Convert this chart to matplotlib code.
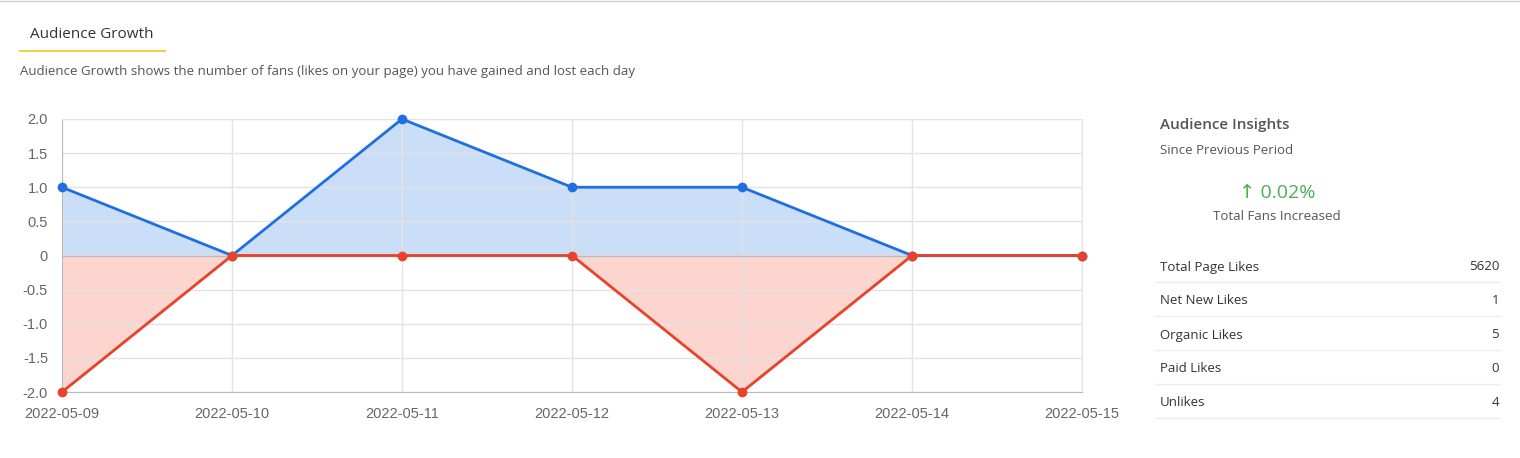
import matplotlib.pyplot as plt

dates = ["2022-05-09", "2022-05-10", "2022-05-11", "2022-05-12",
         "2022-05-13", "2022-05-14", "2022-05-15"]
gained = [1, 0, 2, 1, 1, 0, 0]
lost = [-2, 0, 0, 0, -2, 0, 0]
y_ticks = [2.0, 1.5, 1.0, 0.5, 0, -0.5, -1.0, -1.5, -2.0]
y_labels = ["2.0", "1.5", "1.0", "0.5", "0", "-0.5", "-1.0", "-1.5", "-2.0"]
stat_labels = ["Total Page Likes", "Net New Likes", "Organic Likes", "Paid Likes", "Unlikes"]
stat_values = [5620, 1, 5, 0, 4]

W, H = 1520, 458
fig = plt.figure(figsize=(W / 100, H / 100), dpi=100)

def fx(px):
    return px / W

def fy(py):
    return 1 - py / H

# header
fig.add_artist(plt.Line2D([0, 1], [fy(1), fy(1)], color="#d0d0d0", lw=1))
fig.text(fx(30), fy(35), "Audience Growth", fontsize=11, color="#333333", va="center", family="Open Sans")
fig.add_artist(plt.Line2D([fx(20), fx(165)], [fy(51), fy(51)], color="#f2d14a", lw=1.5))
fig.text(fx(20), fy(72), "Audience Growth shows the number of fans (likes on your page) you have gained and lost each day",
         fontsize=9.5, color="#555555", va="center", family="Open Sans")

# chart
ax = fig.add_axes([fx(62), fy(392), fx(1082) - fx(62), fy(119) - fy(392)])
x = list(range(len(dates)))
blue, red = "#1f6fe0", "#e8432a"
ax.fill_between(x, gained, 0, color="#cbdef7", zorder=1)
ax.fill_between(x, lost, 0, color="#fbd5ce", zorder=1)
ax.plot(x, gained, color=blue, lw=2, marker="o", ms=6, zorder=3, clip_on=False)
ax.plot(x, lost, color=red, lw=2, marker="o", ms=6, zorder=4, clip_on=False)
ax.set_xlim(0, len(dates) - 1)
ax.set_ylim(-2, 2)
ax.set_xticks(x)
ax.set_xticklabels(dates, family="Liberation Sans")
ax.set_yticks(y_ticks)
ax.set_yticklabels(y_labels, family="Liberation Sans")
ax.grid(True, color="#e3e3e3", lw=1, zorder=0)
ax.tick_params(length=0, labelsize=10.5, labelcolor="#666666", pad=10)
ax.tick_params(axis="x", pad=11)
for s in ax.spines.values():
    s.set_color("#e3e3e3")
ax.spines["left"].set_color("#bbbbbb")
ax.spines["bottom"].set_color("#bbbbbb")
ax.axhline(0, color="#bbbbbb", lw=1, zorder=2)

# insights panel
fig.text(fx(1160), fy(125), "Audience Insights", fontsize=11, fontweight="semibold", color="#555555",
         va="center", family="Open Sans")
fig.text(fx(1160), fy(150), "Since Previous Period", fontsize=9.5, color="#555555", va="center", family="Open Sans")
fig.text(fx(1277), fy(193), "\u2191 0.02%", fontsize=14, color="#4caf50", va="center", ha="center",
         family=["Open Sans", "DejaVu Sans"])
fig.text(fx(1277), fy(217), "Total Fans Increased", fontsize=9.5, color="#555555", va="center", ha="center",
         family="Open Sans")
for i, (lab, val) in enumerate(zip(stat_labels, stat_values)):
    yy = 267 + i * 34
    fig.text(fx(1160), fy(yy), lab, fontsize=9.5, color="#333333", va="center", family="Open Sans")
    fig.text(fx(1499), fy(yy), str(val), fontsize=9.5, color="#333333", va="center", ha="right", family="Open Sans")
    fig.add_artist(plt.Line2D([fx(1155), fx(1500)], [fy(yy + 15), fy(yy + 15)], color="#eeeeee", lw=1))

fig.savefig("out.png", dpi=100)
